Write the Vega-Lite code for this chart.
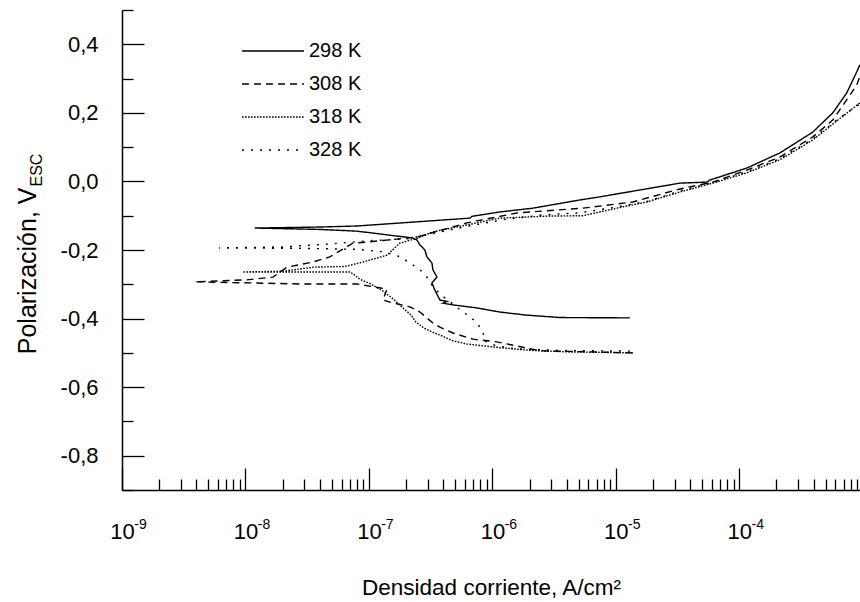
{
 "$schema": "https://vega.github.io/schema/vega-lite/v6.json",
 "width": 738,
 "height": 480,
 "autosize": {"type": "none"},
 "padding": {"left": 122, "top": 10, "right": 0, "bottom": 112},
 "background": "white",
 "config": {
  "view": {"stroke": null},
  "font": "Liberation Sans",
  "axis": {"grid": false, "domainColor": "black", "tickColor": "black", "labelColor": "black", "titleColor": "black", "titleFontWeight": "normal", "domainWidth": 1.5, "tickWidth": 1.3, "labelFlush": false, "labelOverlap": false}
 },
 "data": {"values": [
  {"T":"298 K","i":0,"x":1.30e-5,"v":-0.398},
  {"T":"298 K","i":1,"x":3.53e-6,"v":-0.397},
  {"T":"298 K","i":2,"x":1.90e-6,"v":-0.390},
  {"T":"298 K","i":3,"x":1.15e-6,"v":-0.381},
  {"T":"298 K","i":4,"x":7.48e-7,"v":-0.369},
  {"T":"298 K","i":5,"x":4.79e-7,"v":-0.360},
  {"T":"298 K","i":6,"x":3.97e-7,"v":-0.355},
  {"T":"298 K","i":7,"x":4.3e-7,"v":-0.350},
  {"T":"298 K","i":8,"x":3.76e-7,"v":-0.346},
  {"T":"298 K","i":9,"x":3.42e-7,"v":-0.317},
  {"T":"298 K","i":10,"x":3.24e-7,"v":-0.296},
  {"T":"298 K","i":11,"x":3.56e-7,"v":-0.279},
  {"T":"298 K","i":12,"x":3.30e-7,"v":-0.258},
  {"T":"298 K","i":13,"x":3.24e-7,"v":-0.238},
  {"T":"298 K","i":14,"x":2.95e-7,"v":-0.220},
  {"T":"298 K","i":15,"x":2.84e-7,"v":-0.200},
  {"T":"298 K","i":16,"x":2.59e-7,"v":-0.185},
  {"T":"298 K","i":17,"x":2.45e-7,"v":-0.171},
  {"T":"298 K","i":18,"x":2.27e-7,"v":-0.165},
  {"T":"298 K","i":19,"x":1.5e-7,"v":-0.157},
  {"T":"298 K","i":20,"x":8.0e-8,"v":-0.145},
  {"T":"298 K","i":21,"x":4.0e-8,"v":-0.140},
  {"T":"298 K","i":22,"x":1.19e-8,"v":-0.136},
  {"T":"298 K","i":23,"x":4.0e-8,"v":-0.133},
  {"T":"298 K","i":24,"x":8.0e-8,"v":-0.130},
  {"T":"298 K","i":25,"x":6.6e-7,"v":-0.107},
  {"T":"298 K","i":26,"x":6.8e-7,"v":-0.102},
  {"T":"298 K","i":27,"x":1.15e-6,"v":-0.089},
  {"T":"298 K","i":28,"x":2.13e-6,"v":-0.078},
  {"T":"298 K","i":29,"x":5.12e-6,"v":-0.054},
  {"T":"298 K","i":30,"x":7.41e-6,"v":-0.045},
  {"T":"298 K","i":31,"x":3.30e-5,"v":-0.005},
  {"T":"298 K","i":32,"x":5.46e-5,"v":-0.002},
  {"T":"298 K","i":33,"x":5.77e-5,"v":0.004},
  {"T":"298 K","i":34,"x":1.15e-4,"v":0.039},
  {"T":"298 K","i":35,"x":2.13e-4,"v":0.083},
  {"T":"298 K","i":36,"x":3.94e-4,"v":0.144},
  {"T":"298 K","i":37,"x":5.72e-4,"v":0.200},
  {"T":"298 K","i":38,"x":7.41e-4,"v":0.258},
  {"T":"298 K","i":39,"x":8.93e-4,"v":0.319},
  {"T":"298 K","i":40,"x":9.46e-4,"v":0.340},
  {"T":"308 K","i":0,"x":1.37e-5,"v":-0.500},
  {"T":"308 K","i":1,"x":2.43e-6,"v":-0.494},
  {"T":"308 K","i":2,"x":1.09e-6,"v":-0.468},
  {"T":"308 K","i":3,"x":6.95e-7,"v":-0.460},
  {"T":"308 K","i":4,"x":4.79e-7,"v":-0.442},
  {"T":"308 K","i":5,"x":3.76e-7,"v":-0.425},
  {"T":"308 K","i":6,"x":3.30e-7,"v":-0.413},
  {"T":"308 K","i":7,"x":2.59e-7,"v":-0.381},
  {"T":"308 K","i":8,"x":2.15e-7,"v":-0.366},
  {"T":"308 K","i":9,"x":1.48e-7,"v":-0.352},
  {"T":"308 K","i":10,"x":1.30e-7,"v":-0.346},
  {"T":"308 K","i":11,"x":1.40e-7,"v":-0.314},
  {"T":"308 K","i":12,"x":8.0e-8,"v":-0.299},
  {"T":"308 K","i":13,"x":2.76e-8,"v":-0.299},
  {"T":"308 K","i":14,"x":1.09e-8,"v":-0.296},
  {"T":"308 K","i":15,"x":3.9e-9,"v":-0.293},
  {"T":"308 K","i":16,"x":1.03e-8,"v":-0.287},
  {"T":"308 K","i":17,"x":1.67e-8,"v":-0.279},
  {"T":"308 K","i":18,"x":2.17e-8,"v":-0.250},
  {"T":"308 K","i":19,"x":3.52e-8,"v":-0.235},
  {"T":"308 K","i":20,"x":4.83e-8,"v":-0.220},
  {"T":"308 K","i":21,"x":7.41e-8,"v":-0.180},
  {"T":"308 K","i":22,"x":9.64e-8,"v":-0.177},
  {"T":"308 K","i":23,"x":2.45e-7,"v":-0.162},
  {"T":"308 K","i":24,"x":6.22e-7,"v":-0.121},
  {"T":"308 K","i":25,"x":1.58e-6,"v":-0.092},
  {"T":"308 K","i":26,"x":5.41e-6,"v":-0.078},
  {"T":"308 K","i":27,"x":1.37e-5,"v":-0.060},
  {"T":"308 K","i":28,"x":3.30e-5,"v":-0.022},
  {"T":"308 K","i":29,"x":6.10e-5,"v":-0.002},
  {"T":"308 K","i":30,"x":1.15e-4,"v":0.033},
  {"T":"308 K","i":31,"x":2.13e-4,"v":0.071},
  {"T":"308 K","i":32,"x":3.94e-4,"v":0.130},
  {"T":"308 K","i":33,"x":5.72e-4,"v":0.179},
  {"T":"308 K","i":34,"x":7.41e-4,"v":0.238},
  {"T":"308 K","i":35,"x":8.93e-4,"v":0.281},
  {"T":"308 K","i":36,"x":9.46e-4,"v":0.305},
  {"T":"318 K","i":0,"x":1.37e-5,"v":-0.500},
  {"T":"318 K","i":1,"x":4.0e-6,"v":-0.497},
  {"T":"318 K","i":2,"x":2.1e-6,"v":-0.493},
  {"T":"318 K","i":3,"x":1.15e-6,"v":-0.485},
  {"T":"318 K","i":4,"x":6.2e-7,"v":-0.474},
  {"T":"318 K","i":5,"x":4.8e-7,"v":-0.465},
  {"T":"318 K","i":6,"x":4.0e-7,"v":-0.452},
  {"T":"318 K","i":7,"x":3.3e-7,"v":-0.440},
  {"T":"318 K","i":8,"x":2.8e-7,"v":-0.428},
  {"T":"318 K","i":9,"x":2.4e-7,"v":-0.410},
  {"T":"318 K","i":10,"x":2.2e-7,"v":-0.390},
  {"T":"318 K","i":11,"x":1.9e-7,"v":-0.370},
  {"T":"318 K","i":12,"x":1.6e-7,"v":-0.345},
  {"T":"318 K","i":13,"x":1.3e-7,"v":-0.320},
  {"T":"318 K","i":14,"x":1.05e-7,"v":-0.300},
  {"T":"318 K","i":15,"x":8.5e-8,"v":-0.286},
  {"T":"318 K","i":16,"x":7.6e-8,"v":-0.272},
  {"T":"318 K","i":17,"x":7.0e-8,"v":-0.264},
  {"T":"318 K","i":18,"x":3.0e-8,"v":-0.264},
  {"T":"318 K","i":19,"x":9.5e-9,"v":-0.264},
  {"T":"318 K","i":20,"x":2.0e-8,"v":-0.262},
  {"T":"318 K","i":21,"x":3.6e-8,"v":-0.250},
  {"T":"318 K","i":22,"x":6.4e-8,"v":-0.248},
  {"T":"318 K","i":23,"x":9.0e-8,"v":-0.235},
  {"T":"318 K","i":24,"x":1.4e-7,"v":-0.215},
  {"T":"318 K","i":25,"x":1.78e-7,"v":-0.180},
  {"T":"318 K","i":26,"x":2.5e-7,"v":-0.165},
  {"T":"318 K","i":27,"x":3.3e-7,"v":-0.147},
  {"T":"318 K","i":28,"x":6.2e-7,"v":-0.127},
  {"T":"318 K","i":29,"x":1.15e-6,"v":-0.107},
  {"T":"318 K","i":30,"x":2.9e-6,"v":-0.101},
  {"T":"318 K","i":31,"x":5.4e-6,"v":-0.100},
  {"T":"318 K","i":32,"x":1.02e-5,"v":-0.078},
  {"T":"318 K","i":33,"x":1.78e-5,"v":-0.060},
  {"T":"318 K","i":34,"x":3.3e-5,"v":-0.031},
  {"T":"318 K","i":35,"x":6.1e-5,"v":-0.005},
  {"T":"318 K","i":36,"x":1.15e-4,"v":0.025},
  {"T":"318 K","i":37,"x":2.13e-4,"v":0.063},
  {"T":"318 K","i":38,"x":3.94e-4,"v":0.121},
  {"T":"318 K","i":39,"x":6.3e-4,"v":0.179},
  {"T":"318 K","i":40,"x":9.46e-4,"v":0.229},
  {"T":"328 K","i":0,"x":1.3e-5,"v":-0.495},
  {"T":"328 K","i":1,"x":3.5e-6,"v":-0.493},
  {"T":"328 K","i":2,"x":1.5e-6,"v":-0.488},
  {"T":"328 K","i":3,"x":1.05e-6,"v":-0.478},
  {"T":"328 K","i":4,"x":8.6e-7,"v":-0.465},
  {"T":"328 K","i":5,"x":8.4e-7,"v":-0.440},
  {"T":"328 K","i":6,"x":7.6e-7,"v":-0.415},
  {"T":"328 K","i":7,"x":6.6e-7,"v":-0.395},
  {"T":"328 K","i":8,"x":5.5e-7,"v":-0.375},
  {"T":"328 K","i":9,"x":4.5e-7,"v":-0.350},
  {"T":"328 K","i":10,"x":3.8e-7,"v":-0.330},
  {"T":"328 K","i":11,"x":3.2e-7,"v":-0.300},
  {"T":"328 K","i":12,"x":2.9e-7,"v":-0.275},
  {"T":"328 K","i":13,"x":2.6e-7,"v":-0.258},
  {"T":"328 K","i":14,"x":2.3e-7,"v":-0.245},
  {"T":"328 K","i":15,"x":1.8e-7,"v":-0.220},
  {"T":"328 K","i":16,"x":1.3e-7,"v":-0.205},
  {"T":"328 K","i":17,"x":8.0e-8,"v":-0.198},
  {"T":"328 K","i":18,"x":2.6e-8,"v":-0.195},
  {"T":"328 K","i":19,"x":6.1e-9,"v":-0.194},
  {"T":"328 K","i":20,"x":2.0e-8,"v":-0.191},
  {"T":"328 K","i":21,"x":5.0e-8,"v":-0.182},
  {"T":"328 K","i":22,"x":1.0e-7,"v":-0.173},
  {"T":"328 K","i":23,"x":2.0e-7,"v":-0.168},
  {"T":"328 K","i":24,"x":3.5e-7,"v":-0.150},
  {"T":"328 K","i":25,"x":6.5e-7,"v":-0.130},
  {"T":"328 K","i":26,"x":1.2e-6,"v":-0.112},
  {"T":"328 K","i":27,"x":2.5e-6,"v":-0.098},
  {"T":"328 K","i":28,"x":5.0e-6,"v":-0.092},
  {"T":"328 K","i":29,"x":1.0e-5,"v":-0.075},
  {"T":"328 K","i":30,"x":1.8e-5,"v":-0.058},
  {"T":"328 K","i":31,"x":3.3e-5,"v":-0.028},
  {"T":"328 K","i":32,"x":6.1e-5,"v":-0.003},
  {"T":"328 K","i":33,"x":1.15e-4,"v":0.028},
  {"T":"328 K","i":34,"x":2.13e-4,"v":0.066},
  {"T":"328 K","i":35,"x":3.94e-4,"v":0.124},
  {"T":"328 K","i":36,"x":6.3e-4,"v":0.182},
  {"T":"328 K","i":37,"x":9.46e-4,"v":0.226}
 ]},
 "layer": [
  {
   "mark": {"type": "line", "color": "black", "strokeWidth": 1.4, "clip": true},
   "encoding": {
    "x": {"field": "x", "type": "quantitative",
     "scale": {"type": "log", "domain": [1e-9, 9.5e-4], "nice": false},
     "axis": {
      "orient": "bottom",
      "values": [1e-9,2e-9,3e-9,4e-9,5e-9,6e-9,7e-9,8e-9,9e-9,1e-8,2e-8,3e-8,4e-8,5e-8,6e-8,7e-8,8e-8,9e-8,1e-7,2e-7,3e-7,4e-7,5e-7,6e-7,7e-7,8e-7,9e-7,1e-6,2e-6,3e-6,4e-6,5e-6,6e-6,7e-6,8e-6,9e-6,1e-5,2e-5,3e-5,4e-5,5e-5,6e-5,7e-5,8e-5,9e-5,1e-4,2e-4,3e-4,4e-4,5e-4,6e-4,7e-4,8e-4,9e-4],
      "labelExpr": "abs(log(datum.value)/LN10 - round(log(datum.value)/LN10)) < 0.001 ? '10' : ''",
      "tickSize": {"condition": {"test": "abs(log(datum.value)/LN10 - round(log(datum.value)/LN10)) < 0.001", "value": -22}, "value": -11},
      "labelPadding": 53,
      "labelFontSize": 22,
      "title": "Densidad corriente, A/cm²",
      "titleFontSize": 22.5,
      "titleBaseline": "alphabetic",
      "titleY": 104
     }
    },
    "y": {"field": "v", "type": "quantitative",
     "scale": {"domain": [-0.9, 0.5], "nice": false, "zero": false},
     "axis": {
      "orient": "left",
      "values": [-0.9,-0.8,-0.7,-0.6,-0.5,-0.4,-0.3,-0.2,-0.1,0,0.1,0.2,0.3,0.4,0.5],
      "labelExpr": "abs(round(datum.value*10)) % 2 == 0 ? replace(replace(format(datum.value, '.1f'), '.', ','), '−', '-') : ''",
      "tickSize": {"condition": {"test": "abs(round(datum.value*10)) % 2 == 0", "value": -22}, "value": -11},
      "labelPadding": 46,
      "labelFontSize": 22,
      "title": "Polarización, V",
      "titleFontSize": 25,
      "titleAngle": -90,
      "titleAlign": "right",
      "titleBaseline": "alphabetic",
      "titleX": -87,
      "titleY": 177
     }
    },
    "strokeDash": {"field": "T", "type": "nominal",
     "scale": {"domain": ["298 K", "308 K", "318 K", "328 K"], "range": [[1, 0], [7, 5], [1.6, 1.4], [2, 7]]},
     "legend": {"title": null, "orient": "none", "legendX": 141, "legendY": 31, "symbolType": "M-4,0H4", "symbolSize": 240, "symbolStrokeWidth": 1.4, "symbolStrokeColor": "black", "symbolFillColor": "transparent", "labelFontSize": 20, "labelColor": "black", "labelOffset": 26, "rowPadding": 13, "padding": 0}
    },
    "order": {"field": "i", "type": "quantitative"}
   }
  },
  {
   "mark": {"type": "point", "opacity": 0},
   "encoding": {
    "x": {"field": "x", "type": "quantitative",
     "axis": {"orient": "bottom", "values": [1e-9,1e-8,1e-7,1e-6,1e-5,1e-4], "labelExpr": "'-' + (-round(log(datum.value)/LN10))", "ticks": false, "tickSize": 0, "domain": false, "labelFontSize": 14, "labelOffset": 18, "labelPadding": 27, "title": null}
    },
    "y": {"field": "v", "type": "quantitative",
     "axis": {"orient": "right", "title": "ESC", "labels": false, "ticks": false, "domain": false, "titleFontSize": 16, "titleAngle": -90, "titleAlign": "left", "titleBaseline": "alphabetic", "titleX": -819, "titleY": 176}
    }
   }
  }
 ],
 "resolve": {"axis": {"x": "independent", "y": "independent"}}
}
